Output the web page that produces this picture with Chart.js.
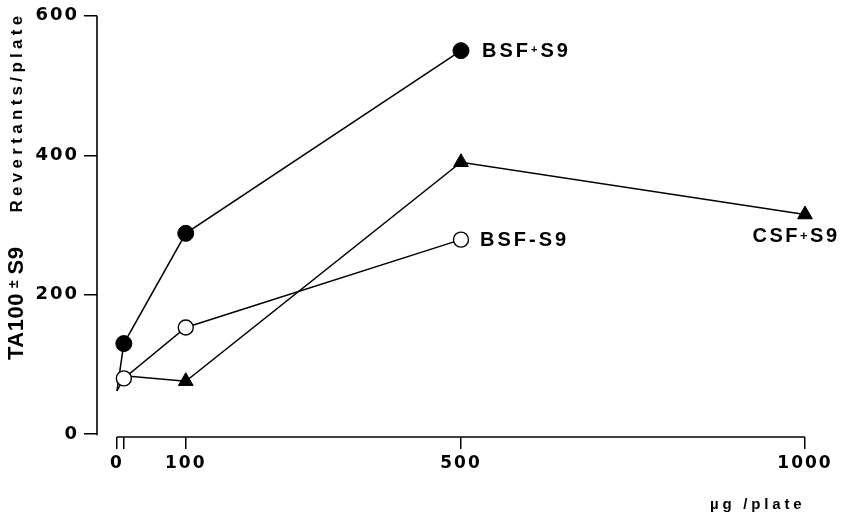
<!DOCTYPE html>
<html><head><meta charset="utf-8">
<script src="https://cdn.jsdelivr.net/npm/chart.js@4/dist/chart.umd.min.js"></script>
<style>html,body{margin:0;padding:0;background:#fff}#wrap{width:842px;height:519px}</style>
</head><body><div id="wrap"><canvas id="c" width="842" height="519"></canvas></div>
<script>
// Dose (µg/plate) and revertants/plate for each series
const bsfPlusDose  = [0, 10, 100, 500];
const bsfPlusVals  = [62, 130, 288, 550];
const bsfMinusDose = [0, 10, 100, 500];
const bsfMinusVals = [62, 80, 153, 279];
const csfPlusDose  = [10, 100, 500, 1000];
const csfPlusVals  = [84, 76, 390, 315];
const yTickVals = [0, 200, 400, 600];
const xTickVals = [0, 10, 100, 500, 1000];
const xTickLabels = ['0', '', '100', '500', '1000'];
const yTitleParts = ['TA100', '±', 'S9', 'Revertants/plate'];
const xTitle = 'µg /plate';

const pts = (xs, ys) => xs.map((x, i) => ({x, y: ys[i]}));
const rad = (xs, r) => xs.map(d => d === 0 ? 0 : r);

function drawRuns(ctx, runs, x, y, align) {
  let total = 0;
  runs.forEach(r => { ctx.font = r.font; ctx.letterSpacing = (r.sp||0) + 'px'; r.w = ctx.measureText(r.t).width + (r.gap||0); total += r.w; });
  let cx = align === 'center' ? x - total / 2 : x;
  ctx.textBaseline = 'middle'; ctx.textAlign = 'left';
  runs.forEach(r => { ctx.font = r.font; ctx.letterSpacing = (r.sp||0) + 'px'; ctx.fillText(r.t, cx, y + (r.dy||0)); cx += r.w; });
  return total;
}

const decor = {
  id: 'decor',
  beforeDraw(chart) { chart.ctx.letterSpacing = '2px'; },
  afterDatasetsDraw(chart) {
    const ctx = chart.ctx;
    ctx.save(); ctx.fillStyle = '#000';
    const L = 'bold 20px "Liberation Sans"';
    const last = i => { const d = chart.getDatasetMeta(i).data; return d[d.length - 1]; };
    const m = last(0), p = last(1), c = last(2);
    drawRuns(ctx, [{t:'BSF', font:L, sp:3}, {t:'-', font:L, sp:3}, {t:'S9', font:L, sp:3}], m.x + 19, m.y + 1, 'left');
    drawRuns(ctx, [{t:'BSF', font:L, sp:3}, {t:'+', font:'bold 11px "Liberation Sans"', dy:-2, sp:3}, {t:'S9', font:L, sp:3}], p.x + 21, p.y + 1, 'left');
    drawRuns(ctx, [{t:'CSF', font:L, sp:2.5}, {t:'+', font:'bold 13px "Liberation Sans"', sp:2.5}, {t:'S9', font:L, sp:2.5}], c.x - 9, c.y + 22, 'center');
    ctx.restore();
  },
  afterDraw(chart) {
    const {ctx, scales: {x, y}, chartArea: ca} = chart;
    ctx.save();
    ctx.strokeStyle = '#000'; ctx.lineWidth = 1.6;
    ctx.beginPath();
    ctx.moveTo(y.right, y.getPixelForValue(yTickVals[0]) + 1);
    ctx.lineTo(y.right, y.getPixelForValue(yTickVals[yTickVals.length - 1]));
    ctx.stroke();
    ctx.beginPath();
    ctx.moveTo(x.getPixelForValue(xTickVals[0]), x.top);
    ctx.lineTo(x.getPixelForValue(xTickVals[xTickVals.length - 1]), x.top);
    ctx.stroke();
    // y title (rotated, reads bottom to top)
    ctx.fillStyle = '#000';
    ctx.translate(17, ca.bottom - 77);
    ctx.rotate(-Math.PI / 2);
    const runs = [
      {t: yTitleParts[0], font: 'bold 22px "Liberation Sans"', sp: 0.5, gap: 5},
      {t: yTitleParts[1], font: 'bold 14px "Liberation Sans"', sp: 0, gap: 6, dy: -3},
      {t: yTitleParts[2], font: 'bold 22px "Liberation Sans"', sp: 0.5, gap: 34},
      {t: yTitleParts[3], font: 'bold 17px "Liberation Sans"', sp: 4.3}
    ];
    drawRuns(ctx, runs, 0, 0, 'left');
    ctx.restore();
    ctx.save();
    ctx.fillStyle = '#000';
    drawRuns(ctx, [{t: xTitle, font: 'bold 15px "Liberation Sans"', sp: 3.8}], x.getPixelForValue(xTickVals[xTickVals.length-1]) - 95, x.bottom - 14, 'left');
    ctx.restore();
  }
};

new Chart(document.getElementById('c'), {
  type: 'line',
  data: {
    datasets: [
      {label: 'BSF-S9', data: pts(bsfMinusDose, bsfMinusVals), borderColor: '#000', borderWidth: 1.5, clip: false,
       pointRadius: rad(bsfMinusDose, 7.5), pointBackgroundColor: '#fff', pointBorderColor: '#000', pointBorderWidth: 1.4},
      {label: 'BSF+S9', data: pts(bsfPlusDose, bsfPlusVals), borderColor: '#000', borderWidth: 1.5, clip: false,
       pointRadius: rad(bsfPlusDose, 8), pointBackgroundColor: '#000', pointBorderColor: '#000', pointBorderWidth: 1},
      {label: 'CSF+S9', data: pts(csfPlusDose, csfPlusVals), borderColor: '#000', borderWidth: 1.5, clip: false,
       pointStyle: 'triangle', pointRadius: csfPlusDose.map((d, i) => i === 0 ? 0 : 8.5),
       pointBackgroundColor: '#000', pointBorderColor: '#000', pointBorderWidth: 1}
    ]
  },
  options: {
    responsive: false, animation: false, devicePixelRatio: 1,
    layout: {padding: {left: 0, right: 37, top: 15, bottom: 0}},
    plugins: {legend: {display: false}, tooltip: {enabled: false}},
    elements: {line: {tension: 0}},
    scales: {
      x: {type: 'linear', min: -29, max: 1000,
          afterBuildTicks: s => { s.ticks = xTickVals.map(v => ({value: v})); },
          afterFit: s => { s.height = 82; },
          grid: {drawOnChartArea: false, color: '#000', lineWidth: 1.5, tickLength: 12},
          border: {display: false},
          ticks: {autoSkip: false, maxRotation: 0, padding: 4, color: '#000',
                  font: {family: 'DejaVu Sans', weight: 'bold', size: 17},
                  callback: v => xTickLabels[xTickVals.indexOf(v)]}},
      y: {type: 'linear', min: -4, max: 600,
          afterBuildTicks: s => { s.ticks = yTickVals.map(v => ({value: v})); },
          afterFit: s => { s.width = 97; },
          grid: {drawOnChartArea: false, color: '#000', lineWidth: 1.5, tickLength: 13},
          border: {display: false},
          ticks: {padding: 5, color: '#000', font: {family: 'DejaVu Sans', weight: 'bold', size: 18}}}
    }
  },
  plugins: [decor]
});
</script></body></html>
